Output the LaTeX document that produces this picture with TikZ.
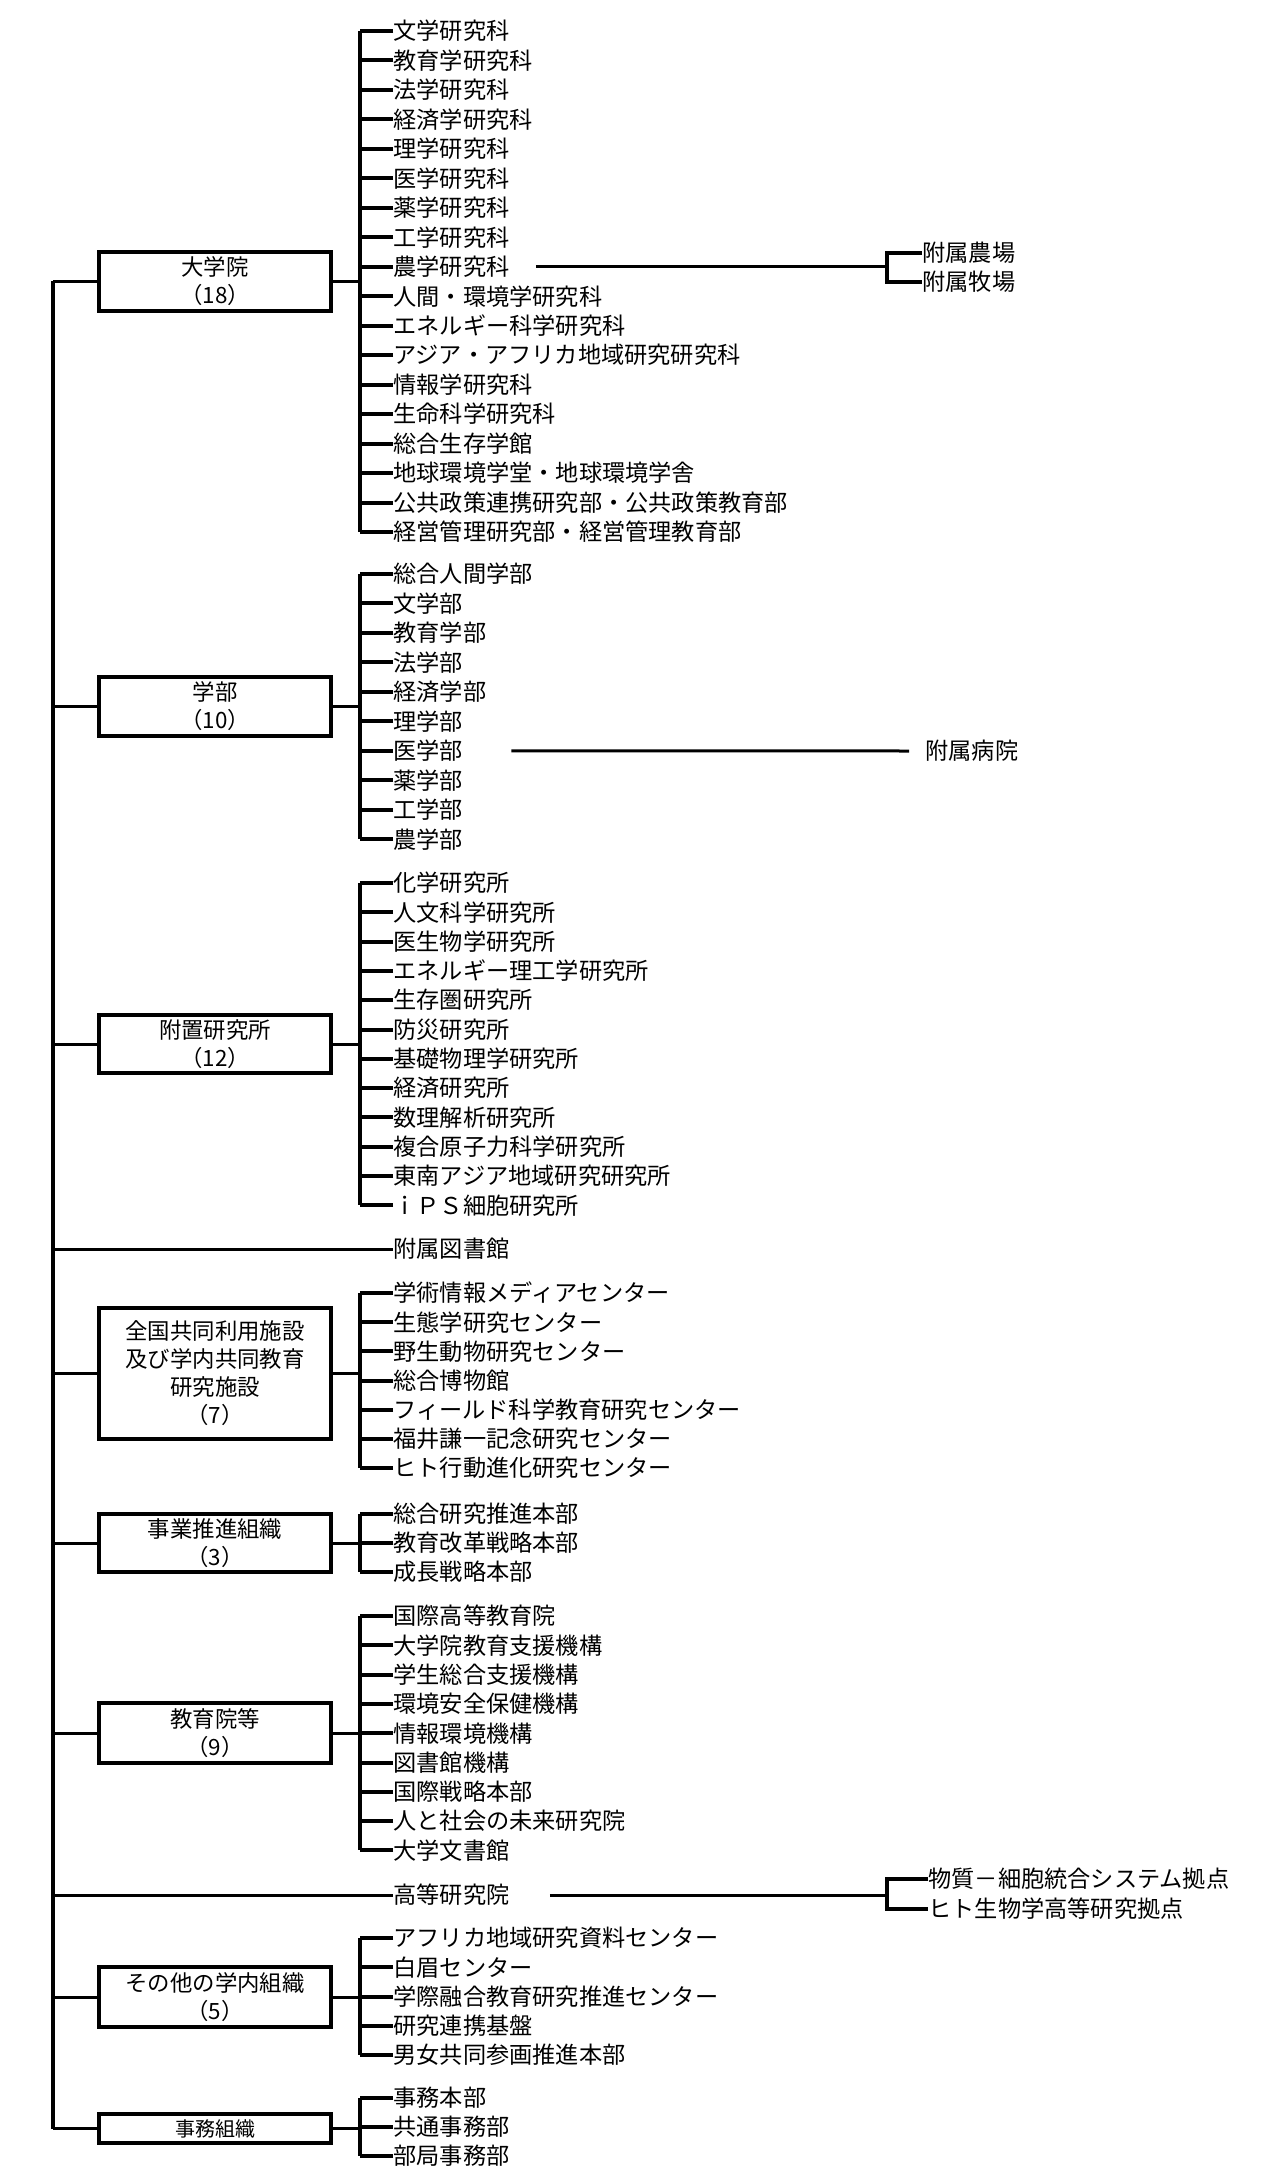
\documentclass[tikz,border=0pt]{standalone}
\usepackage{fontspec}
\setmainfont{Noto Sans CJK JP}
\begin{document}
\begin{tikzpicture}[x=0.5pt,y=-0.5pt,
  item/.style={anchor=west,inner sep=0pt,font=\fontsize{11.6pt}{13pt}\selectfont},
  grp/.style={draw,line width=2pt,minimum width=116pt,align=center,inner sep=0pt,font=\fontsize{11.2pt}{14pt}\selectfont},
  tick/.style={line width=2pt},
  spine/.style={line width=2pt},
  conn/.style={line width=1.5pt}]
\useasboundingbox (0,0) rectangle (1283,2182);
\fill[white] (0,0) rectangle (1283,2182);
\coordinate (sp) at (360,0);
\coordinate (mn) at (53,0);
% group boxes
\node[grp,minimum height=29.5pt] (b1) at (215,281.5) {大学院\\（18）};
\node[grp,minimum height=29.5pt] (b2) at (215,706.5) {学部\\（10）};
\node[grp,minimum height=29pt] (b3) at (215,1044) {附置研究所\\（12）};
\node[grp,minimum height=65.5pt] (b4) at (215,1373.5) {全国共同利用施設\\及び学内共同教育\\研究施設\\（7）};
\node[grp,minimum height=29pt] (b5) at (215,1543) {事業推進組織\\（3）};
\node[grp,minimum height=30pt] (b6) at (215,1733) {教育院等\\（9）};
\node[grp,minimum height=30pt] (b7) at (215,1997) {その他の学内組織\\（5）};
\node[grp,minimum height=14.5pt,font=\fontsize{10pt}{12pt}\selectfont] (b8) at (215,2128.5) {事務組織};
% items
\foreach \t [count=\i from 0] in {文学研究科,教育学研究科,法学研究科,経済学研究科,理学研究科,医学研究科,薬学研究科,工学研究科,農学研究科,人間・環境学研究科,エネルギー科学研究科,アジア・アフリカ地域研究研究科,情報学研究科,生命科学研究科,総合生存学館,地球環境学堂・地球環境学舎,公共政策連携研究部・公共政策教育部,経営管理研究部・経営管理教育部}
  {\node[item] (a\i) at (393,31+29.47*\i) {\t}; \draw[tick] (a\i.west) -- (a\i.west -| sp);}
\foreach \t [count=\i from 0] in {総合人間学部,文学部,教育学部,法学部,経済学部,理学部,医学部,薬学部,工学部,農学部}
  {\node[item] (c\i) at (393,574+29.47*\i) {\t}; \draw[tick] (c\i.west) -- (c\i.west -| sp);}
\foreach \t [count=\i from 0] in {化学研究所,人文科学研究所,医生物学研究所,エネルギー理工学研究所,生存圏研究所,防災研究所,基礎物理学研究所,経済研究所,数理解析研究所,複合原子力科学研究所,東南アジア地域研究研究所,ｉＰＳ細胞研究所}
  {\node[item] (d\i) at (393,883+29.3*\i) {\t}; \draw[tick] (d\i.west) -- (d\i.west -| sp);}
\foreach \t [count=\i from 0] in {学術情報メディアセンター,生態学研究センター,野生動物研究センター,総合博物館,フィールド科学教育研究センター,福井謙一記念研究センター,ヒト行動進化研究センター}
  {\node[item] (e\i) at (393,1293+29.2*\i) {\t}; \draw[tick] (e\i.west) -- (e\i.west -| sp);}
\foreach \t [count=\i from 0] in {総合研究推進本部,教育改革戦略本部,成長戦略本部}
  {\node[item] (f\i) at (393,1514+29*\i) {\t}; \draw[tick] (f\i.west) -- (f\i.west -| sp);}
\foreach \t [count=\i from 0] in {国際高等教育院,大学院教育支援機構,学生総合支援機構,環境安全保健機構,情報環境機構,図書館機構,国際戦略本部,人と社会の未来研究院,大学文書館}
  {\node[item] (g\i) at (393,1616+29.3*\i) {\t}; \draw[tick] (g\i.west) -- (g\i.west -| sp);}
\foreach \t [count=\i from 0] in {アフリカ地域研究資料センター,白眉センター,学際融合教育研究推進センター,研究連携基盤,男女共同参画推進本部}
  {\node[item] (h\i) at (393,1938+29.3*\i) {\t}; \draw[tick] (h\i.west) -- (h\i.west -| sp);}
\foreach \t [count=\i from 0] in {事務本部,共通事務部,部局事務部}
  {\node[item] (k\i) at (393,2098+29*\i) {\t}; \draw[tick] (k\i.west) -- (k\i.west -| sp);}
% spines
\draw[spine] (a0.west -| sp) -- (a17.west -| sp);
\draw[spine] (c0.west -| sp) -- (c9.west -| sp);
\draw[spine] (d0.west -| sp) -- (d11.west -| sp);
\draw[spine] (e0.west -| sp) -- (e6.west -| sp);
\draw[spine] (f0.west -| sp) -- (f2.west -| sp);
\draw[spine] (g0.west -| sp) -- (g8.west -| sp);
\draw[spine] (h0.west -| sp) -- (h4.west -| sp);
\draw[spine] (k0.west -| sp) -- (k2.west -| sp);
% single items
\node[item] (lib) at (393,1249) {附属図書館};
\node[item] (ias) at (393,1895) {高等研究院};
% main line
\draw[spine] (b1.west -| mn) -- (b8.west -| mn);
\foreach \b in {b1,b2,b3,b4,b5,b6,b7,b8}
  {\draw[conn] (\b.west -| mn) -- (\b.west); \draw[conn] (\b.east) -- (\b.east -| sp);}
\draw[conn] (lib.west -| mn) -- (lib.west);
\draw[conn] (ias.west -| mn) -- (ias.west);
% right side
\coordinate (r1) at (887,0);
\node[item] (n1) at (922,253) {附属農場};
\node[item] (n2) at (922,282) {附属牧場};
\draw[tick] (n1.west) -- (n1.west -| r1) -- (n2.west -| r1) -- (n2.west);
\draw[conn] ([xshift=13pt]a8.east) -- (a8.east -| r1);
\node[item] (hosp) at (925,751) {附属病院};
\draw[conn] ([xshift=24pt]c6.east) -- ([xshift=-8pt]hosp.west);
\node[item] (p1) at (928,1879) {物質－細胞統合システム拠点};
\node[item] (p2) at (928,1909) {ヒト生物学高等研究拠点};
\draw[tick] (p1.west) -- (p1.west -| r1) -- (p2.west -| r1) -- (p2.west);
\draw[conn] ([xshift=20pt]ias.east) -- (ias.east -| r1);
\end{tikzpicture}
\end{document}
